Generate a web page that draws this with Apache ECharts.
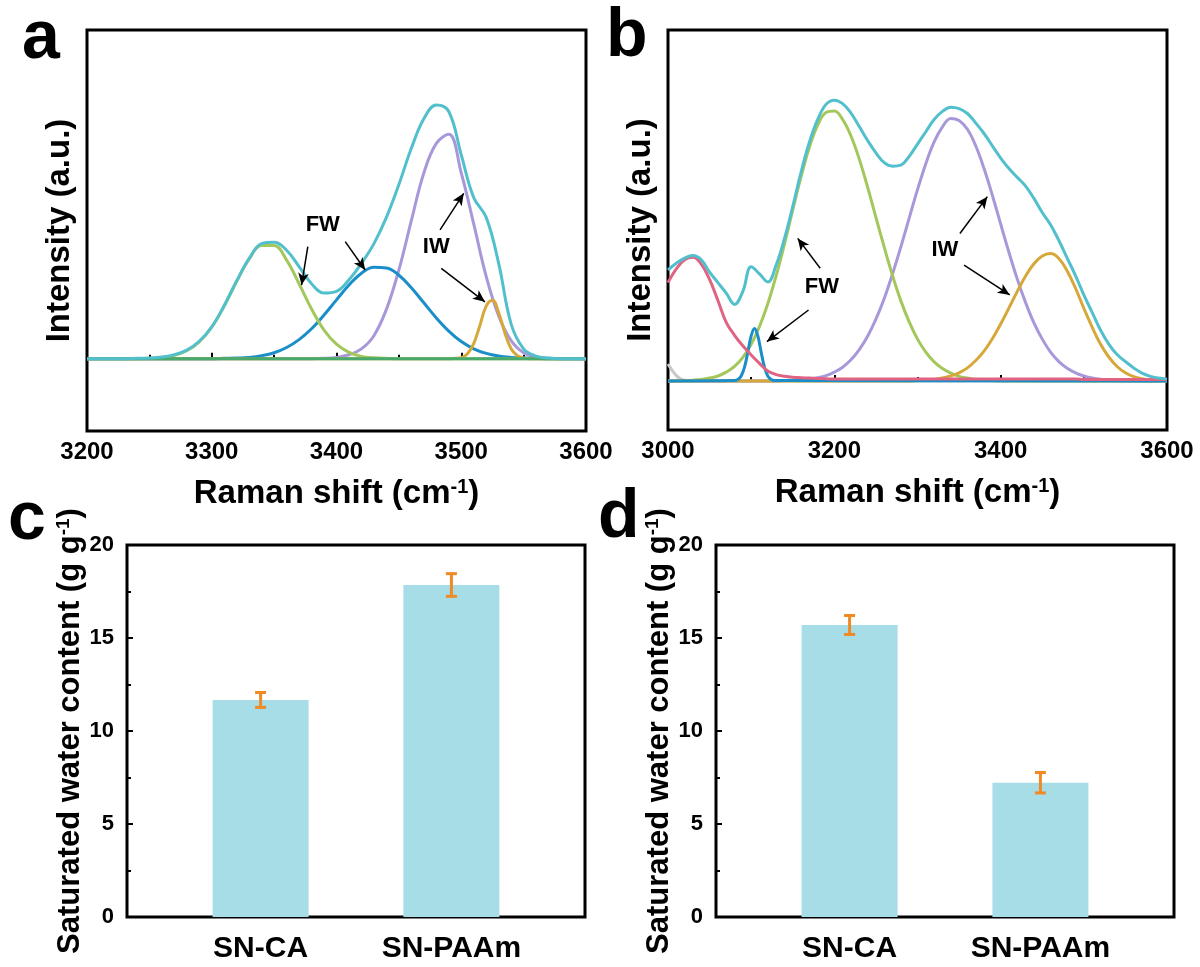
<!DOCTYPE html>
<html>
<head>
<meta charset="utf-8">
<script src="https://cdn.jsdelivr.net/npm/echarts@6/dist/echarts.min.js"></script>
<style>
  html, body { margin: 0; padding: 0; background: #fff; }
  #chart { width: 1200px; height: 967px; }
</style>
</head>
<body>
<div id="chart"></div>
<script>
// ---- panel a: Raman O-H band fit, 3200-3600 cm-1 ----
var aX = [3200, 3210, 3220, 3230, 3240, 3250, 3260, 3270, 3280, 3290,
  3300, 3310, 3320, 3330, 3340, 3350, 3360, 3370, 3380, 3390,
  3400, 3410, 3420, 3430, 3440, 3450, 3460, 3470, 3480, 3490,
  3500, 3510, 3520, 3530, 3540, 3550, 3560, 3570, 3580, 3590, 3600];
var aTotal = [0, 0, 0, 0, 0.001, 0.002, 0.005, 0.012, 0.026, 0.053,
  0.097, 0.162, 0.237, 0.305, 0.350, 0.354, 0.330, 0.280, 0.228, 0.200,
  0.205, 0.240, 0.290, 0.350, 0.430, 0.530, 0.640, 0.730, 0.772, 0.752,
  0.620, 0.490, 0.430, 0.290, 0.105, 0.030, 0.008, 0.002, 0, 0, 0];
var aFW1 = [0, 0, 0, 0, 0, 0.001, 0.004, 0.010, 0.024, 0.051,
  0.096, 0.160, 0.235, 0.303, 0.344, 0.344, 0.300, 0.228, 0.151, 0.087,
  0.044, 0.019, 0.007, 0.003, 0.001, 0, 0, 0, 0, 0,
  0, 0, 0, 0, 0, 0, 0, 0, 0, 0, 0];
var aFW2 = [0, 0, 0, 0, 0, 0, 0, 0, 0, 0,
  0, 0.001, 0.002, 0.004, 0.009, 0.018, 0.034, 0.058, 0.091, 0.133,
  0.179, 0.224, 0.260, 0.278, 0.276, 0.254, 0.216, 0.170, 0.124, 0.084,
  0.052, 0.030, 0.016, 0.008, 0.004, 0.002, 0.001, 0, 0, 0, 0];
var aIW1 = [0, 0, 0, 0, 0, 0, 0, 0, 0, 0,
  0, 0, 0, 0, 0, 0, 0, 0, 0, 0.001,
  0.004, 0.012, 0.030, 0.070, 0.150, 0.270, 0.420, 0.565, 0.655, 0.683,
  0.565, 0.410, 0.250, 0.130, 0.055, 0.018, 0.005, 0.001, 0, 0, 0];
var aIW2X = [3200, 3490, 3495, 3500, 3505, 3510, 3515, 3520, 3525, 3530, 3535, 3540, 3545, 3550, 3555, 3600];
var aIW2 = [0, 0, 0.001, 0.003, 0.015, 0.046, 0.102, 0.160, 0.178, 0.140, 0.078, 0.030, 0.009, 0.002, 0, 0];
var aBaseX = [3200, 3600];
var aBase = [0, 0];

// ---- panel b: 3000-3600 cm-1 ----
var bX = [3000, 3010, 3020, 3030, 3040, 3050, 3060, 3070, 3080, 3090,
  3100, 3110, 3120, 3130, 3140, 3150, 3160, 3170, 3180, 3190,
  3200, 3210, 3220, 3230, 3240, 3250, 3260, 3270, 3280, 3290,
  3300, 3310, 3320, 3330, 3340, 3350, 3360, 3370, 3380, 3390,
  3400, 3410, 3420, 3430, 3440, 3450, 3460, 3470, 3480, 3490,
  3500, 3510, 3520, 3530, 3540, 3550, 3560, 3570, 3580, 3590, 3600];
var bTotal = [0.316, 0.335, 0.350, 0.357, 0.345, 0.310, 0.280, 0.250, 0.218, 0.255,
  0.325, 0.305, 0.282, 0.330, 0.405, 0.497, 0.595, 0.680, 0.745, 0.788,
  0.800, 0.790, 0.763, 0.725, 0.685, 0.650, 0.622, 0.612, 0.615, 0.640,
  0.675, 0.710, 0.745, 0.768, 0.780, 0.776, 0.762, 0.735, 0.705, 0.670,
  0.635, 0.605, 0.580, 0.555, 0.520, 0.480, 0.445, 0.400, 0.350, 0.300,
  0.245, 0.195, 0.145, 0.105, 0.075, 0.055, 0.037, 0.022, 0.013, 0.008, 0.005];
var bFW1 = [0, 0, 0.001, 0.002, 0.004, 0.008, 0.014, 0.025, 0.041, 0.067,
  0.104, 0.155, 0.220, 0.299, 0.390, 0.487, 0.582, 0.666, 0.729, 0.765,
  0.769, 0.745, 0.698, 0.632, 0.552, 0.466, 0.381, 0.300, 0.228, 0.168,
  0.119, 0.082, 0.054, 0.035, 0.022, 0.013, 0.008, 0.004, 0.002, 0.001,
  0, 0, 0, 0, 0, 0, 0, 0, 0, 0,
  0, 0, 0, 0, 0, 0, 0, 0, 0, 0, 0];
var bIW1 = [0, 0, 0, 0, 0, 0, 0, 0, 0, 0,
  0, 0, 0, 0, 0.001, 0.002, 0.003, 0.005, 0.009, 0.015,
  0.025, 0.039, 0.060, 0.089, 0.127, 0.176, 0.235, 0.305, 0.382, 0.464,
  0.545, 0.619, 0.681, 0.724, 0.748, 0.742, 0.717, 0.670, 0.605, 0.529,
  0.447, 0.366, 0.290, 0.223, 0.165, 0.119, 0.082, 0.055, 0.036, 0.023,
  0.014, 0.008, 0.005, 0.003, 0.001, 0, 0, 0, 0, 0, 0];
var bIW2 = [0, 0, 0, 0, 0, 0, 0, 0, 0, 0,
  0, 0, 0, 0, 0, 0, 0, 0, 0, 0,
  0, 0, 0, 0, 0, 0, 0, 0, 0, 0,
  0.001, 0.002, 0.004, 0.008, 0.014, 0.023, 0.037, 0.058, 0.085, 0.120,
  0.162, 0.208, 0.255, 0.299, 0.334, 0.356, 0.363, 0.349, 0.313, 0.264,
  0.207, 0.153, 0.105, 0.068, 0.041, 0.023, 0.012, 0.006, 0.003, 0.001, 0.001];
var bLow = [0.280, 0.319, 0.345, 0.352, 0.333, 0.289, 0.229, 0.167, 0.130, 0.100,
  0.074, 0.050, 0.028, 0.018, 0.013, 0.010, 0.009, 0.008, 0.007, 0.006,
  0.005, 0.005, 0.005, 0.005, 0.005, 0.005, 0.005, 0.005, 0.005, 0.005,
  0.005, 0.005, 0.005, 0.005, 0.005, 0.005, 0.005, 0.005, 0.005, 0.005,
  0.005, 0.005, 0.005, 0.005, 0.005, 0.005, 0.005, 0.005, 0.005, 0.005,
  0.004, 0.004, 0.004, 0.004, 0.004, 0.004, 0.004, 0.004, 0.004, 0.004, 0.004];
var bFW2X = [3000, 3080, 3084, 3088, 3092, 3096, 3100, 3104, 3108, 3112, 3116, 3120, 3124, 3128, 3600];
var bFW2 = [0, 0.001, 0.004, 0.014, 0.039, 0.082, 0.128, 0.149, 0.128, 0.082, 0.039, 0.014, 0.004, 0.001, 0];
var bGrayX = [3000, 3005, 3010, 3015, 3020, 3030, 3600];
var bGray = [0.048, 0.030, 0.015, 0.006, 0.002, 0, 0];

// annotation anchors in data units: [text, x, y] and [[x1, y1], [x2, y2]]
var aNotes = [['FW', 3389, 0.407], ['IW', 3480, 0.341]];
var aArrows = [[[3377, 0.341], [3372, 0.224]], [[3407, 0.356], [3423, 0.270]],
  [[3483, 0.392], [3502, 0.503]], [[3484, 0.275], [3519, 0.173]]];
var bNotes = [['FW', 3185, 0.268], ['IW', 3333, 0.373]];
var bArrows = [[[3183, 0.321], [3156, 0.406]], [[3169, 0.202], [3119, 0.112]],
  [[3351, 0.420], [3384, 0.525]], [[3356, 0.330], [3411, 0.245]]];

// ---- panels c, d: saturated water content ----
var samples = ['SN-CA', 'SN-PAAm'];
var cMean = [11.67, 17.85];
var cErr = [0.40, 0.61];
var dMean = [15.70, 7.22];
var dErr = [0.51, 0.55];

var FONT = '"Liberation Sans", Arial, sans-serif';
var cyan = '#52bfcd', lime = '#a3c75a', blue = '#1a8ec8', lilac = '#a898da',
  gold = '#d6a83a', green = '#48a96c', rose = '#e06482', grey = '#c8c8c8';
var barColor = '#a7dde6', errColor = '#f08a24';

var chart = echarts.init(document.getElementById('chart'));

function curve(xs, ys, color, idx) {
  return {
    type: 'line', xAxisIndex: idx, yAxisIndex: idx,
    data: xs.map(function (x, i) { return [x, ys[i]]; }),
    smooth: 0.4, symbol: 'none', silent: true,
    lineStyle: { color: color, width: 3 }, itemStyle: { color: color }
  };
}

function withNotes(series, notes, arrows) {
  series.markLine = {
    silent: true, symbol: ['none', 'arrow'], symbolSize: [8, 12],
    lineStyle: { color: '#000', width: 1.5, type: 'solid' },
    label: { show: false },
    data: arrows.map(function (a) { return [{ coord: a[0] }, { coord: a[1] }]; })
  };
  series.markPoint = {
    silent: true, symbol: 'circle', symbolSize: 1,
    itemStyle: { color: 'rgba(0,0,0,0)' },
    label: { show: true, position: 'inside', color: '#000', fontSize: 22, fontWeight: 'bold', fontFamily: FONT, formatter: '{b}' },
    data: notes.map(function (n) { return { name: n[0], coord: [n[1], n[2]] }; })
  };
  return series;
}

function bars(means, idx) {
  return {
    type: 'bar', xAxisIndex: idx, yAxisIndex: idx, barWidth: 96, silent: true,
    data: means.map(function (v, i) { return [i + 1, v]; }),
    itemStyle: { color: barColor }
  };
}

function errors(means, errs, idx) {
  return {
    type: 'custom', xAxisIndex: idx, yAxisIndex: idx, silent: true, z: 5,
    data: means.map(function (v, i) { return [i + 1, v - errs[i], v + errs[i]]; }),
    encode: { x: 0, y: [1, 2] },
    renderItem: function (params, api) {
      var top = api.coord([api.value(0), api.value(2)]);
      var bot = api.coord([api.value(0), api.value(1)]);
      var st = { stroke: errColor, lineWidth: 3 };
      var w = 5.5;
      return {
        type: 'group', children: [
          { type: 'line', shape: { x1: top[0], y1: top[1], x2: bot[0], y2: bot[1] }, style: st },
          { type: 'line', shape: { x1: top[0] - w, y1: top[1], x2: top[0] + w, y2: top[1] }, style: st },
          { type: 'line', shape: { x1: bot[0] - w, y1: bot[1], x2: bot[0] + w, y2: bot[1] }, style: st }
        ]
      };
    }
  };
}

var titleRich = function (size) {
  return {
    t: { fontSize: size, fontWeight: 'bold', fontFamily: FONT, color: '#000', verticalAlign: 'middle' },
    s: { fontSize: Math.round(size * 0.6), fontWeight: 'bold', fontFamily: FONT, color: '#000', verticalAlign: 'top' }
  };
};

function plain(v) { return String(v); }

function ramanX(idx, min, interval) {
  return {
    type: 'value', gridIndex: idx, min: min, max: 3600, interval: interval,
    axisLine: { show: false },
    axisTick: { show: true, inside: true, length: 6, lineStyle: { color: '#000', width: 2 } },
    minorTick: { show: true, splitNumber: 2, length: 4, lineStyle: { color: '#000', width: 2 } },
    splitLine: { show: false },
    axisLabel: { color: '#000', fontSize: 24, fontWeight: 'bold', fontFamily: FONT, margin: 9, formatter: plain },
    name: '{t|Raman shift (cm}{s|-1}{t|)}', nameLocation: 'middle', nameGap: 46,
    nameTextStyle: { rich: titleRich(33) }
  };
}

function ramanY(idx, min) {
  return {
    type: 'value', gridIndex: idx, min: min, max: 1,
    axisLine: { show: false }, axisTick: { show: false }, axisLabel: { show: false },
    splitLine: { show: false },
    name: 'Intensity (a.u.)', nameLocation: 'middle', nameGap: 11, nameRotate: 90,
    nameTextStyle: { color: '#000', fontSize: 33, fontWeight: 'bold', fontFamily: FONT }
  };
}

function sampleX(idx) {
  return {
    type: 'value', gridIndex: idx, min: 0.3, max: 2.7,
    axisLine: { show: false }, axisTick: { show: false }, splitLine: { show: false },
    axisLabel: {
      customValues: [1, 2], color: '#000', fontSize: 30, fontWeight: 'bold', fontFamily: FONT, margin: 17,
      formatter: function (v) { return samples[Math.round(v) - 1]; }
    }
  };
}

function waterY(idx) {
  return {
    type: 'value', gridIndex: idx, min: 0, max: 20, interval: 5,
    axisLine: { show: false },
    axisTick: { show: true, inside: true, length: 6, lineStyle: { color: '#000', width: 2 } },
    minorTick: { show: true, splitNumber: 2, length: 4, lineStyle: { color: '#000', width: 2 } },
    splitLine: { show: false },
    axisLabel: { color: '#000', fontSize: 22, fontWeight: 'bold', fontFamily: FONT, margin: 13 },
    name: '{t|Saturated water content (g g}{s|-1}{t|)}', nameLocation: 'middle', nameGap: 40, nameRotate: 90,
    nameTextStyle: { rich: titleRich(31) }
  };
}

var box = { show: true, borderColor: '#000', borderWidth: 3, backgroundColor: 'transparent', containLabel: false };

function panelLabel(txt, left, top) {
  return { type: 'text', left: left, top: top, silent: true,
    style: { text: txt, font: 'bold 68px ' + FONT, fill: '#000' } };
}

chart.setOption({
  animation: false,
  backgroundColor: '#fff',
  grid: [
    Object.assign({ left: 87, top: 30, width: 499, height: 401 }, box),
    Object.assign({ left: 668, top: 30, width: 499, height: 400 }, box),
    Object.assign({ left: 127, top: 545, width: 458, height: 372 }, box),
    Object.assign({ left: 716, top: 545, width: 458, height: 372 }, box)
  ],
  xAxis: [ramanX(0, 3200, 100), ramanX(1, 3000, 200), sampleX(2), sampleX(3)],
  yAxis: [ramanY(0, -0.22), ramanY(1, -0.14), waterY(2), waterY(3)],
  graphic: [
    panelLabel('a', 22, 5),
    panelLabel('b', 606, 3),
    panelLabel('c', 8, 486),
    panelLabel('d', 598, 484)
  ],
  series: [
    curve(aX, aIW1, lilac, 0),
    curve(aX, aFW2, blue, 0),
    curve(aIW2X, aIW2, gold, 0),
    curve(aX, aFW1, lime, 0),
    withNotes(curve(aBaseX, aBase, green, 0), aNotes, aArrows),
    curve(aX, aTotal, cyan, 0),

    curve(bGrayX, bGray, grey, 1),
    curve(bX, bIW1, lilac, 1),
    curve(bX, bFW1, lime, 1),
    curve(bX, bIW2, gold, 1),
    curve(bFW2X, bFW2, blue, 1),
    withNotes(curve(bX, bLow, rose, 1), bNotes, bArrows),
    curve(bX, bTotal, cyan, 1),

    bars(cMean, 2),
    errors(cMean, cErr, 2),
    bars(dMean, 3),
    errors(dMean, dErr, 3)
  ]
});

window.addEventListener('resize', function () { chart.resize(); });
</script>
</body>
</html>
